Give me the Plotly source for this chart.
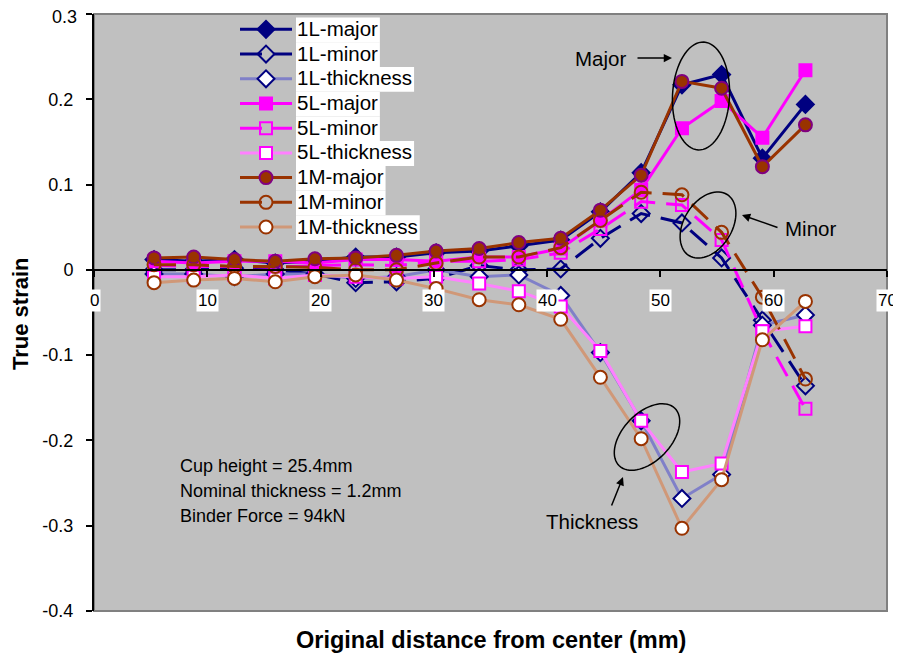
import math
import plotly.graph_objects as go

# ---------------- data ----------------
distance = [5.3, 8.8, 12.4, 16.0, 19.5, 23.1, 26.7, 30.2, 34.0, 37.5, 41.2, 44.7, 48.3, 51.9, 55.4, 59.0, 62.8]

l1_major = [0.012, 0.010, 0.012, 0.008, 0.010, 0.015, 0.015, 0.020, 0.022, 0.028, 0.035, 0.068, 0.114, 0.217, 0.229, 0.131, 0.194]
l1_minor = [0.000, 0.000, 0.002, 0.000, -0.005, -0.015, -0.014, -0.010, 0.005, 0.000, 0.001, 0.037, 0.066, 0.055, 0.014, -0.059, -0.136]
l1_thick = [-0.005, -0.005, -0.008, -0.005, -0.005, -0.010, -0.008, 0.000, -0.008, -0.006, -0.030, -0.097, -0.177, -0.268, -0.240, -0.065, -0.053]

l5_major = [0.010, 0.008, 0.010, 0.010, 0.008, 0.012, 0.012, 0.010, 0.015, 0.015, 0.025, 0.058, 0.094, 0.166, 0.198, 0.155, 0.234]
l5_minor = [0.005, 0.004, 0.004, 0.003, 0.005, 0.006, 0.005, 0.010, 0.010, 0.012, 0.020, 0.048, 0.080, 0.076, 0.035, -0.072, -0.163]
l5_thick = [-0.008, -0.008, -0.006, -0.010, -0.006, -0.008, -0.010, -0.008, -0.016, -0.025, -0.043, -0.095, -0.177, -0.237, -0.227, -0.072, -0.066]

m1_major = [0.014, 0.015, 0.012, 0.010, 0.013, 0.014, 0.017, 0.022, 0.025, 0.032, 0.037, 0.070, 0.111, 0.221, 0.213, 0.121, 0.170]
m1_minor = [0.006, 0.006, 0.004, 0.004, 0.003, 0.000, 0.000, 0.008, 0.015, 0.015, 0.026, 0.058, 0.091, 0.088, 0.044, -0.032, -0.128]
m1_thick = [-0.015, -0.012, -0.010, -0.014, -0.008, -0.006, -0.012, -0.022, -0.035, -0.041, -0.058, -0.126, -0.198, -0.303, -0.246, -0.082, -0.037]

series_names = ["1L-major", "1L-minor", "1L-thickness",
                "5L-major", "5L-minor", "5L-thickness",
                "1M-major", "1M-minor", "1M-thickness"]

x_ticks = [0, 10, 20, 30, 40, 50, 60, 70]
y_ticks = [0.3, 0.2, 0.1, 0, -0.1, -0.2, -0.3, -0.4]
y_tick_text = ["0.3", "0.2", "0.1", "0", "-0.1", "-0.2", "-0.3", "-0.4"]

notes = ["Cup height = 25.4mm", "Nominal thickness = 1.2mm", "Binder Force = 94kN"]

# ---------------- geometry (reference pixel frame) ----------------
OFF = 8                       # page body margin of the browser
W, H = 901 - OFF, 660 - OFF   # figure size
L, R, T, B = 94, 887, 14, 611  # plot area in page pixels
XMIN, XMAX = 0, 70
YMIN, YMAX = -0.4, 0.3

def px2x(px):
    return XMIN + (px - L) / (R - L) * (XMAX - XMIN)

def py2y(py):
    return YMAX - (py - T) / (B - T) * (YMAX - YMIN)

def pxp(px):
    return (px - L) / (R - L)

def pyp(py):
    return (B - py) / (B - T)

FONT = "Arial, Liberation Sans, sans-serif"
NAVY = "#000080"
MAG = "#FF00FF"
BROWN = "#993300"
DASH = "22px,11px"
LEG_FS = 20.5
TICK_FS = 18
TICK_STANDOFF = 9
TICK_LEN = 6

fig = go.Figure()

def add(i, y, lcolor, dash, symbol, mfill, mline, msize, lw=3):
    fig.add_trace(go.Scatter(
        x=distance, y=y, mode="lines+markers",
        name=f'<span style="font-size:{LEG_FS}px">{series_names[i]}</span>',
        line=dict(color=lcolor, width=lw, dash=dash),
        marker=dict(symbol=symbol, size=msize, color=mfill,
                    line=dict(color=mline, width=2)),
    ))

add(0, l1_major, NAVY, "solid", "diamond", NAVY, NAVY, 13)
add(1, l1_minor, NAVY, DASH, "diamond-open", NAVY, NAVY, 13)
add(2, l1_thick, "#8080C8", "solid", "diamond", "white", NAVY, 13)
add(3, l5_major, MAG, "solid", "square", MAG, MAG, 12)
add(4, l5_minor, MAG, DASH, "square-open", MAG, MAG, 12)
add(5, l5_thick, "#FF80FF", "solid", "square", "white", MAG, 12)
add(6, m1_major, BROWN, "solid", "circle", BROWN, "#800080", 13)
add(7, m1_minor, BROWN, DASH, "circle-open", BROWN, BROWN, 13)
add(8, m1_thick, "#D09878", "solid", "circle", "white", BROWN, 13)

shapes = []
# plot-area border
shapes.append(dict(type="rect", xref="paper", yref="paper", x0=0, x1=1, y0=0, y1=1,
                   line=dict(color="#808080", width=2), fillcolor="rgba(0,0,0,0)", layer="below"))

# white boxes behind the legend texts (Excel style)
ARIAL = {'1': 556, 'L': 556, 'M': 833, '5': 556, '-': 333, 'm': 833, 'a': 556, 'j': 222,
         'o': 556, 'r': 333, 'i': 222, 'n': 556, 't': 278, 'h': 556, 'c': 500, 'k': 500,
         'e': 556, 's': 500}
LEG_TOP, LEG_STEP, LEG_TX = 30, 24.7, 296
for i, nm in enumerate(series_names):
    w = sum(ARIAL.get(c, 556) for c in nm) / 1000 * LEG_FS
    cy = LEG_TOP + i * LEG_STEP
    shapes.append(dict(type="rect", xref="paper", yref="paper",
                       x0=pxp(LEG_TX), x1=pxp(LEG_TX + w + 3),
                       y0=pyp(cy + 12.4), y1=pyp(cy - 12.4),
                       line=dict(width=0), fillcolor="white", layer="above"))

def ellipse_path(cx, cy, a, b, theta_deg, n=72):
    th = math.radians(theta_deg)
    pts = []
    for k in range(n + 1):
        t = 2 * math.pi * k / n
        px = cx + a * math.cos(t) * math.cos(th) - b * math.sin(t) * math.sin(th)
        py = cy + a * math.cos(t) * math.sin(th) + b * math.sin(t) * math.cos(th)
        pts.append((px2x(px), py2y(py)))
    return "M " + " L ".join(f"{x:.4f},{y:.5f}" for x, y in pts) + " Z"

for (cx, cy, a, b, th) in [(701, 96, 54, 28.5, -87), (708, 225, 36, 24, -58), (647, 437, 40, 24, -46)]:
    shapes.append(dict(type="path", xref="x", yref="y", path=ellipse_path(cx, cy, a, b, th),
                       line=dict(color="black", width=1.5), layer="above"))

ann = []
# x tick labels with white background, under the zero line
for v in x_ticks:
    ann.append(dict(x=v, y=0, xref="x", yref="y", text=str(v), showarrow=False,
                    yanchor="top", yshift=-19, bgcolor="white", borderpad=1,
                    font=dict(family=FONT, size=17, color="black")))

# the top y tick label is drawn as an annotation, nudged a little so it is not clipped
ann.append(dict(x=0, y=y_ticks[0], xref="paper", yref="y", text=y_tick_text[0], showarrow=False,
                xanchor="right", yanchor="middle", xshift=-(TICK_LEN + TICK_STANDOFF), yshift=-3,
                font=dict(family=FONT, size=TICK_FS, color="black")))
axis_tick_text = [""] + y_tick_text[1:]

def text_at(px, py, txt, size, anchor="center"):
    ann.append(dict(x=px2x(px), y=py2y(py), xref="x", yref="y", text=txt, showarrow=False,
                    xanchor=anchor, yanchor="middle", font=dict(family=FONT, size=size, color="black")))

def arrow(tipx, tipy, tailx, taily):
    ann.append(dict(x=px2x(tipx), y=py2y(tipy), xref="x", yref="y", text="", showarrow=True,
                    ax=tailx - tipx, ay=taily - tipy, arrowhead=2, arrowsize=1.1, arrowwidth=1.5,
                    arrowcolor="black", standoff=0))

text_at(600, 58, "Major", 20.5)
arrow(672, 58, 636, 58)
text_at(810, 228, "Minor", 20.5)
arrow(742, 215, 779, 228)
text_at(592, 521, "Thickness", 20.5)
arrow(623, 477, 611, 507)

for i, s in enumerate(notes):
    text_at(178, 466 + 25 * i, s, 18, anchor="left")

# axis titles
ann.append(dict(x=0.5, y=pyp(640), xref="paper", yref="paper",
                text="<b>Original distance from center (mm)</b>",
                showarrow=False, xanchor="center", yanchor="middle",
                font=dict(family=FONT, size=23.5, color="black")))
ann.append(dict(x=pxp(20), y=pyp(314), xref="paper", yref="paper", text="<b>True strain</b>",
                textangle=-90, showarrow=False, xanchor="center", yanchor="middle",
                font=dict(family=FONT, size=22, color="black")))

fig.update_layout(
    width=W, height=H,
    margin=dict(l=L - OFF, r=W - (R - OFF), t=T - OFF, b=H - (B - OFF), autoexpand=False),
    paper_bgcolor="white", plot_bgcolor="#C0C0C0",
    font=dict(family=FONT, size=16, color="black"),
    xaxis=dict(range=[XMIN, XMAX], anchor="free", position=(0 - YMIN) / (YMAX - YMIN),
               showline=True, linecolor="black", linewidth=2, ticks="outside", ticklen=TICK_LEN,
               tickcolor="black", tickwidth=2, tickvals=x_ticks, showticklabels=False,
               showgrid=False, zeroline=False, automargin=False),
    yaxis=dict(range=[YMIN, YMAX], showline=True, linecolor="black", linewidth=2,
               ticks="outside", ticklen=TICK_LEN, tickcolor="black", tickwidth=2,
               tickvals=y_ticks, ticktext=axis_tick_text, showgrid=False, zeroline=False,
               ticklabelstandoff=TICK_STANDOFF, ticklabeloverflow="allow", automargin=False,
               tickfont=dict(family=FONT, size=TICK_FS, color="black")),
    legend=dict(x=pxp(235), y=pyp(12), xanchor="left", yanchor="top", bgcolor="rgba(0,0,0,0)",
                font=dict(family=FONT, size=16.7, color="black"), tracegroupgap=0, itemwidth=52),
    shapes=shapes, annotations=ann,
)

fig.write_html("out.html")
